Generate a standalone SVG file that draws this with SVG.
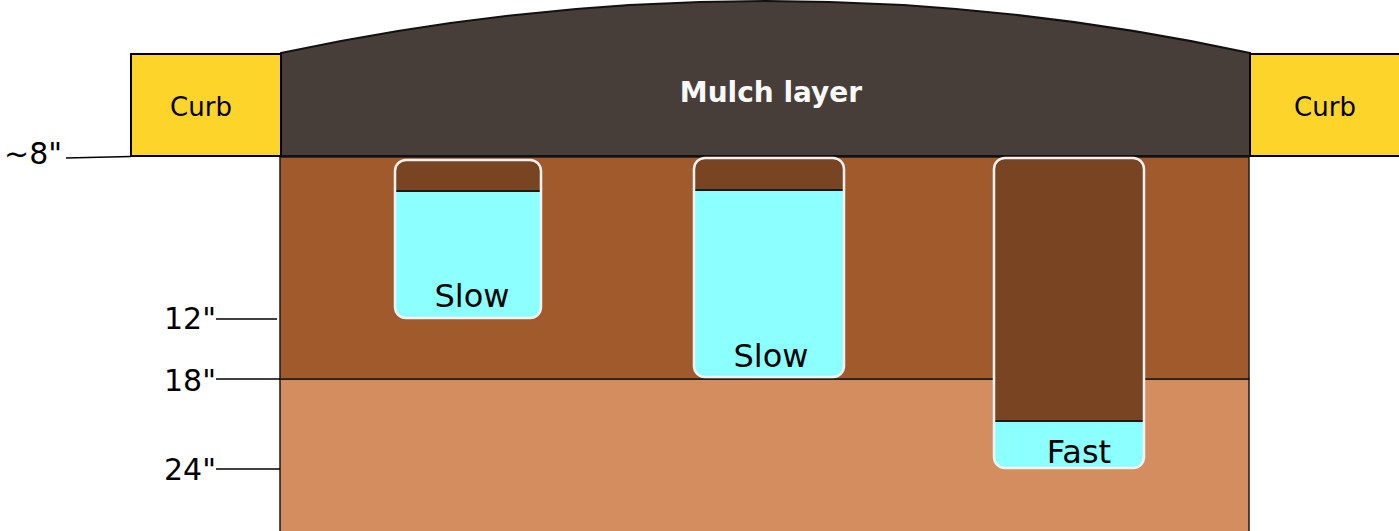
<svg xmlns="http://www.w3.org/2000/svg" width="1399" height="531" viewBox="0 0 1399 531">
<style>
.t{font-family:"DejaVu Sans",Verdana,sans-serif;fill:#000}
.curb{fill:#fdd42a;stroke:#000;stroke-width:2}
.lbl{font-size:30px}
.cl{font-size:32px}
.ln{stroke:#000;stroke-width:1.5;fill:none}
.col{stroke:#f2f2f2;stroke-width:2.5}
.top{fill:#784421}
.water{fill:#8cffff}
.div{stroke:#1a1a1a;stroke-width:2}
</style>
<rect width="1399" height="531" fill="#fff"/>
<g id="lower-soil"><rect x="280" y="379" width="969" height="153" fill="#d38d5f" stroke="#1a1a1a" stroke-width="1.5"/></g>
<g id="upper-soil"><rect x="280" y="157" width="969" height="222" fill="#a05a2c" stroke="#1a1a1a" stroke-width="1.5"/></g>
<g id="mulch">
<path d="M281,156 L281,53 Q766,-51 1250,53 L1250,156 Z" fill="#483e39" stroke="#111" stroke-width="2"/>
<text class="t" x="771" y="102" font-size="28" font-weight="bold" text-anchor="middle" style="fill:#f9f9f9">Mulch layer</text>
</g>
<g id="curb-left"><rect class="curb" x="131" y="54" width="150" height="102"/><text class="t" x="201" y="116" font-size="26" text-anchor="middle">Curb</text></g>
<g id="curb-right"><rect class="curb" x="1250" y="54" width="152" height="102"/><text class="t" x="1325" y="116" font-size="26" text-anchor="middle">Curb</text></g>
<g id="connectors">
<path class="ln" d="M66,158 L131,156.5"/>
<path class="ln" d="M216,319 L277,319"/>
<path class="ln" d="M216,379 L280,379"/>
<path class="ln" d="M216,469 L280,469"/>
</g>
<g id="depth-labels">
<text class="t lbl" x="4" y="164">~8"</text>
<text class="t lbl" x="164" y="329">12"</text>
<text class="t lbl" x="164" y="391">18"</text>
<text class="t lbl" x="164" y="480">24"</text>
</g>
<g id="column-1">
<clipPath id="c1"><rect x="395" y="160" width="146" height="158" rx="11"/></clipPath>
<g clip-path="url(#c1)"><rect class="water" x="395" y="160" width="146" height="158"/><rect class="top" x="395" y="160" width="146" height="31"/></g>
<line class="div" x1="395" y1="191" x2="541" y2="191"/>
<rect class="col" x="395" y="160" width="146" height="158" rx="11" fill="none"/>
<text class="t cl" x="472" y="307" text-anchor="middle">Slow</text>
</g>
<g id="column-2">
<clipPath id="c2"><rect x="694" y="158" width="150" height="219" rx="11"/></clipPath>
<g clip-path="url(#c2)"><rect class="water" x="694" y="158" width="150" height="219"/><rect class="top" x="694" y="158" width="150" height="32"/></g>
<line class="div" x1="694" y1="190" x2="844" y2="190"/>
<rect class="col" x="694" y="158" width="150" height="219" rx="11" fill="none"/>
<text class="t cl" x="771" y="367" text-anchor="middle">Slow</text>
</g>
<g id="column-3">
<clipPath id="c3"><rect x="994" y="158" width="150" height="310" rx="11"/></clipPath>
<g clip-path="url(#c3)"><rect class="water" x="994" y="158" width="150" height="310"/><rect class="top" x="994" y="158" width="150" height="263"/></g>
<line class="div" x1="994" y1="421" x2="1144" y2="421"/>
<rect class="col" x="994" y="158" width="150" height="310" rx="11" fill="none"/>
<text class="t cl" x="1079" y="463" text-anchor="middle">Fast</text>
</g>
</svg>
